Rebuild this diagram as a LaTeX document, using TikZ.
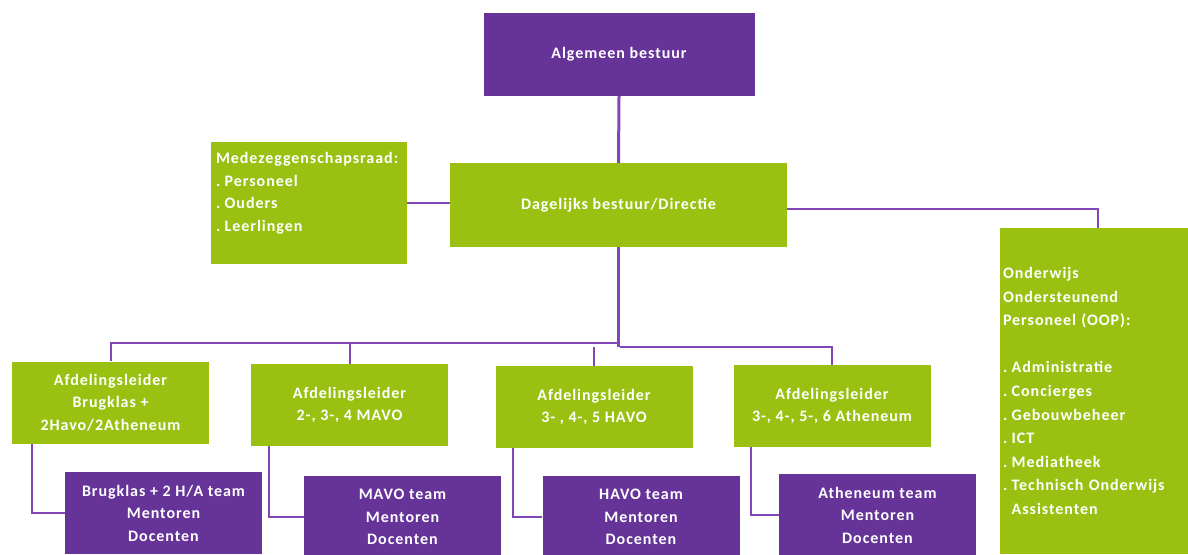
\documentclass[tikz,border=0pt]{standalone}
\usepackage{fontspec}
\setmainfont{Carlito}
\newfontfamily\orgfont[LetterSpace=6]{Carlito}
\usepackage{xcolor}
\usetikzlibrary{positioning, calc}
\definecolor{orgpurple}{RGB}{102,51,153}
\definecolor{orggreen}{RGB}{154,193,18}
\definecolor{linkpurple}{RGB}{130,70,185}

\begin{document}
\begin{tikzpicture}[x=1pt, y=-1pt,
    box/.style={minimum width=197pt, minimum height=82pt, inner sep=0pt,
        text=white, align=center, font=\orgfont\bfseries\fontsize{16}{22.5}\selectfont},
    greenbox/.style={box, fill=orggreen},
    purplebox/.style={box, fill=orgpurple},
    listbox/.style={greenbox, align=left},
    link/.style={draw=linkpurple, line width=2pt}]
            \useasboundingbox (0,0) rectangle (1188,554);
            \clip (0,0) rectangle (1188,554);

            \coordinate (hubL) at (620,343);
            \coordinate (hubR) at (620,347);

            \node[purplebox, minimum width=271pt, minimum height=83pt] (AB) at (619,54.5) {Algemeen bestuur};
            \node[greenbox, minimum width=337pt, minimum height=84pt] (DB) at (618.5,205) {Dagelijks bestuur/Directie};
            \node[listbox, minimum width=196pt, minimum height=122pt, text width=186pt] (MR) at (309,203)
                {Medezeggenschapsraad:\\.\;Personeel\\.\;Ouders\\.\;Leerlingen\\~};
            \node[listbox, minimum height=326pt, text width=190pt, font=\orgfont\bfseries\fontsize{16}{23.6}\selectfont] (OOP) at (1098,391)
                {Onderwijs\\Ondersteunend\\Personeel (OOP):\\~\\.\;Administratie\\.\;Concierges\\.\;Gebouwbeheer\\.\;ICT\\.\;Mediatheek\\.\;Technisch Onderwijs\\\phantom{.\;}Assistenten};

            % Afdelingsleiders
            \node[greenbox] (A1) at (110.5,402.5) {Afdelingsleider\\Brugklas +\\2Havo/2Atheneum};
            \node[greenbox] (A2) at (349.5,405) {Afdelingsleider\\2-, 3-, 4 MAVO};
            \node[greenbox] (A3) at (594,407) {Afdelingsleider\\3- , 4-, 5 HAVO};
            \node[greenbox] (A4) at (832,406) {Afdelingsleider\\3-, 4-, 5-, 6 Atheneum};

            % Teams
            \node[purplebox] (T1) at (163.5,513) {Brugklas + 2 H/A team\\Mentoren\\Docenten};
            \node[purplebox] (T2) at (402.5,517) {MAVO team\\Mentoren\\Docenten};
            \node[purplebox] (T3) at (641,517) {HAVO team\\Mentoren\\Docenten};
            \node[purplebox] (T4) at (877.5,515) {Atheneum team\\Mentoren\\Docenten};

            \draw[link, line width=3pt] (AB.south) -- (DB.north);
            \draw[link] (MR.east) -- (MR.east -| DB.west);
            \draw[link] ([yshift=-4pt]DB.east) -| (OOP.north);
            \draw[link, line width=3.5pt] (DB.south) -- (DB.south |- hubR);

            \draw[link] (A1.north) |- (hubL);
            \draw[link] (A2.north) -- (A2.north |- hubL);
            \draw[link] (A4.north) |- (hubR);
            \draw[link] (A3.north) -- (A3.north |- hubR);

            \draw[link] ([xshift=20pt]A1.south west) |- (T1.west);% leader to team
            \draw[link] ([xshift=18pt]A2.south west) |- (T2.west);
            \draw[link] ([xshift=18pt]A3.south west) |- (T3.west);
            \draw[link] ([xshift=18pt]A4.south west) |- (T4.west);
        \end{tikzpicture}
\end{document}
